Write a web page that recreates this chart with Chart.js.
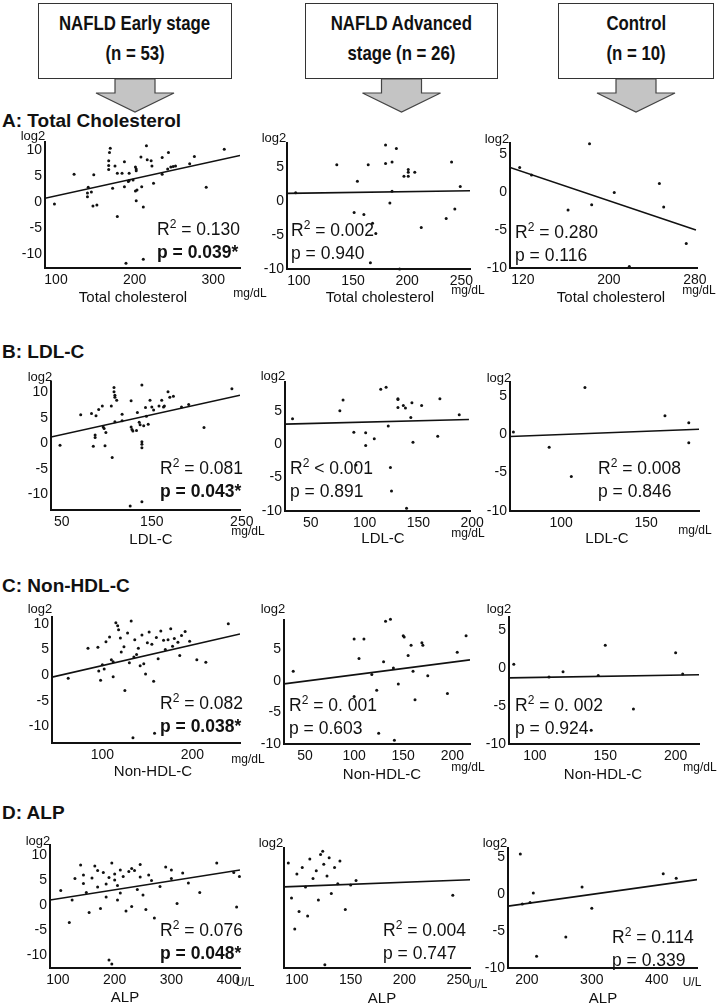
<!DOCTYPE html>
<html>
<head>
<meta charset="utf-8">
<script src="https://cdn.jsdelivr.net/npm/chart.js@4.4.1/dist/chart.umd.min.js"></script>
<style>
  body { margin: 0; background: #fff; }
  #page { position: relative; width: 717px; height: 1008px; overflow: hidden; font-family: Arial, "Liberation Sans", sans-serif; color: #111; }
  .box { position: absolute; border: 1.3px solid #333; background: #fff; box-sizing: border-box;
         display: flex; flex-direction: column; justify-content: center; align-items: center; padding-bottom: 6px;
         font-weight: bold; font-size: 21px; line-height: 30px; }
  .box div { transform: scaleX(0.8); white-space: nowrap; }
  .t { position: absolute; white-space: nowrap; }
  .sec { font-weight: bold; font-size: 19px; }
  .stat { font-size: 17.5px; }
  .stat sup { font-size: 12px; vertical-align: 7px; line-height: 0; }
  .xt { font-size: 15px; }
  .unit { font-size: 12px; }
  .log { font-size: 13px; }
</style>
</head>
<body>
<div id="page">
  <svg width="717" height="120" style="position:absolute;left:0;top:0" id="arrows"></svg>
</div>
<script>
// ==================== DATA ====================
// A: Total cholesterol (mg/dL) vs log2
const tcEarlyX = [98,123,141,140,140,145,148,147,152,169,168,167,167,167,175,178,178,172,184,187,187,189,192,193,193,198,201,202,202,201,203,202,208,209,211,211,215,216,222,221,224,235,235,242,243,246,249,252,270,276,291,314];
const tcEarlyY = [-0.4,5.3,2.8,1.7,1.0,1.9,5.2,-0.8,-0.6,10.3,9.5,7.9,7.0,6.2,6.9,5.5,-2.8,2.6,5.5,7.7,2.9,-11.8,3.9,4.1,5.5,4.2,6.7,6.3,6.0,2.1,2.3,0.2,8.6,2.9,-1.0,-11.0,10.8,8.1,6.9,7.9,3.6,8.5,5.3,6.3,9.5,6.7,6.8,6.9,7.3,8.7,2.8,10.1];
const tcEarlyFit = [[86, 0.7], [334, 8.9]];

const tcAdvX = [97,135,154,151,160,164,166,168,171,180,180,184,186,186,190,193,197,201,201,201,207,213,236,241,244,249];
const tcAdvY = [1.2,5.3,2.9,-1.7,-2.0,5.3,-9.1,-3.3,-4.8,5.5,8.2,-0.3,5.7,1.4,7.7,-10,3.6,4.2,4.6,3.6,4.2,-3.9,-2.6,5.7,-1.2,2.1];
const tcAdvFit = [[89, 1.1], [258, 1.5]];

const tcCtrlX = [117,128,162,182,184,205,219,247,251,272];
const tcCtrlY = [3.2,2.2,-2.4,6.3,-1.7,-0.1,-9.8,1.1,-2.0,-6.8];
const tcCtrlFit = [[108, 3.2], [281, -5.0]];

// B: LDL-C
const ldlEarlyX = [48,71,83,85,88,87,87,91,95,96,97,99,98,105,106,108,108,109,109,111,109,117,117,127,127,128,129,133,134,136,137,139,139,139,139,141,143,144,146,148,150,152,158,161,163,164,168,170,174,183,191,208,239,126,139];
const ldlEarlyY = [-0.4,5.6,5.8,-0.6,5.4,1.6,1.1,6.6,7.3,3.2,2.9,2.1,-0.5,7.3,-2.8,10.9,10.1,9.4,9.0,8.4,4.2,5.7,4.4,8.3,3.2,2.7,2.4,2.5,6.0,4.1,3.6,11.4,0.3,-0.2,-0.9,3.4,7.0,5.3,3.7,8.4,7.1,6.5,7.3,8.4,7.1,7.3,10.1,9.0,9.2,7.1,7.6,3.1,10.7,-12.3,-11.5];
const ldlEarlyFit = [[38, 1.2], [248, 9.4]];

const ldlAdvX = [33,77,80,90,101,101,109,115,120,122,131,131,131,136,138,143,144,145,153,168,170,188,92,124,139,125];
const ldlAdvY = [3.8,5.0,6.6,1.8,1.7,-0.2,0.8,8.2,8.5,2.7,6.7,6.8,5.5,5.8,5.4,4.0,6.2,0.3,5.8,1.2,6.8,4.4,-3.1,-3.5,-9.6,-7.0];
const ldlAdvFit = [[26, 3.0], [197, 3.7]];

const ldlCtrlX = [72,93,114,161,175,175,106];
const ldlCtrlY = [0.3,-1.7,6.1,2.4,1.5,-1.1,-5.5];
const ldlCtrlFit = [[70, -0.3], [181, 0.65]];

// C: Non-HDL-C
const nhEarlyX = [62,84,95,96,98,100,102,104,108,110,112,112,115,117,118,120,121,124,125,128,130,132,134,135,136,138,140,142,144,146,148,150,152,155,157,158,160,162,165,168,170,173,176,180,184,188,192,197,205,215,240,178,186];
const nhEarlyY = [-0.6,5.2,5.4,0.8,-1.0,2.0,1.2,6.5,7.4,3.0,2.6,-0.3,10.2,9.6,8.8,7.2,4.5,5.5,-3.0,8.2,2.4,10.5,-12.2,3.5,6.9,4.0,5.2,1.8,7.8,2.2,0.2,6.3,8.4,6.0,-1.2,-11.3,7.3,3.2,8.6,6.8,5.0,6.9,9.0,7.1,6.4,7.7,8.5,6.6,3.0,2.5,10.0,5.6,3.8];
const nhEarlyFit = [[44, -0.4], [253, 8.0]];

const nhAdvX = [38,100,110,132,137,150,151,158,169,170,214,125,141,162,105,118,123,130,140,145,155,160,175,195,205,100];
const nhAdvY = [1.5,6.6,6.6,9.4,9.7,7.1,6.9,5.6,6.0,5.6,7.1,-8.3,-9.4,-3.0,3.5,1.0,-1.5,3.0,2.0,-0.5,4.0,1.5,0.8,-2.0,4.5,-2.5];
const nhAdvFit = [[28.6, -0.5], [218, 3.3]];

const nhCtrlX = [85,110,140,145,150,170,200,205,120];
const nhCtrlY = [0.5,-1.2,-8.2,-1.0,3.0,-5.4,2.0,-0.8,-0.5];
const nhCtrlFit = [[81.6, -1.3], [216.6, -0.9]];

// D: ALP (U/L)
const alpEarlyX = [105,120,125,130,140,145,150,155,160,165,170,175,180,185,190,190,195,195,200,200,205,205,210,215,220,225,230,235,240,245,250,255,260,265,270,280,290,300,310,320,330,350,380,410,415,420,145,170,210,230,185,245,300];
const alpEarlyY = [2.9,-3.5,1.0,5.3,8.0,6.0,2.5,-1.5,5.4,7.8,3.6,-0.7,6.5,4.2,5.5,-11.0,-11.8,8.4,6.2,5.0,3.9,1.0,7.0,5.7,-1.2,6.7,7.3,6.9,3.1,5.6,2.0,-0.9,6.0,4.9,-2.6,3.7,7.6,5.3,0.3,6.4,4.4,2.5,8.4,6.5,-0.4,5.7,4.3,6.9,2.4,-0.3,1.6,8.1,7.0];
const alpEarlyFit = [[86, 1.0], [421, 7.0]];

const alpAdvX = [92,95,98,100,102,105,108,110,112,115,118,120,122,124,125,126,128,130,132,135,138,140,145,150,155,245];
const alpAdvY = [6.2,0.8,-4.0,4.5,-1.3,5.5,2.5,-2.0,6.8,3.8,5.0,0.5,7.5,8.0,6.0,-9.5,4.2,7.0,1.5,5.5,3.0,6.5,-1.0,2.8,3.5,1.2];
const alpAdvFit = [[88, 2.5], [261, 3.6]];

const alpCtrlX = [190,193,205,210,215,260,285,300,410,430];
const alpCtrlY = [5.5,-1.3,-1.1,0.2,-8.4,-5.8,1.0,-1.9,2.8,2.2];
const alpCtrlFit = [[171, -1.6], [462, 2.0]];

// tick labels
const yTicksFull = [-10, -5, 0, 5, 10];
const yTicksMid = [-10, -5, 0, 5];
const tcEarlyTicks = [100, 200, 300];
const tcAdvTicks = [100, 150, 200, 250];
const tcCtrlTicks = [120, 200, 280];
const ldlEarlyTicks = [50, 150, 250];
const ldlAdvTicks = [50, 100, 150, 200];
const ldlCtrlTicks = [100, 150];
const nhEarlyTicks = [100, 200];
const nhAdvTicks = [50, 100, 150, 200];
const nhCtrlTicks = [100, 150, 200];
const alpEarlyTicks = [100, 200, 300, 400];
const alpAdvTicks = [100, 150, 200, 250];
const alpCtrlTicks = [200, 300, 400];

// ==================== LAYOUT ====================
const page = document.getElementById('page');
Chart.defaults.font.family = 'Arial, "Liberation Sans", sans-serif';
Chart.defaults.color = '#111';

function txt(html, x, y, cls, align) {
  const d = document.createElement('div');
  d.className = 't ' + cls;
  const tx = align === 'left' ? '0' : '-50%';
  d.style.cssText = `left:${x}px;top:${y}px;transform:translate(${tx},-50%);`;
  d.innerHTML = html;
  page.appendChild(d);
}

// header boxes + arrows
const boxes = [
  { lines: ['NAFLD Early stage', '(n = 53)'], l: 38, t: 3, w: 194, h: 76 },
  { lines: ['NAFLD Advanced', 'stage (n = 26)'], l: 305, t: 3, w: 193, h: 76 },
  { lines: ['Control', '(n = 10)'], l: 558, t: 3, w: 156, h: 76 }
];
const svg = document.getElementById('arrows');
boxes.forEach(b => {
  const d = document.createElement('div');
  d.className = 'box';
  d.style.cssText = `left:${b.l}px;top:${b.t}px;width:${b.w}px;height:${b.h}px;`;
  d.innerHTML = b.lines.map(s => `<div>${s}</div>`).join('');
  page.appendChild(d);
  const cx = b.l + b.w / 2, y0 = b.t + b.h;
  const pts = [[cx - 20, y0], [cx + 20, y0], [cx + 20, y0 + 14], [cx + 39, y0 + 14], [cx, y0 + 33],
               [cx - 39, y0 + 14], [cx - 20, y0 + 14]];
  const poly = document.createElementNS('http://www.w3.org/2000/svg', 'polygon');
  poly.setAttribute('points', pts.map(p => p.join(',')).join(' '));
  poly.setAttribute('fill', '#c4c4c4');
  poly.setAttribute('stroke', '#444');
  poly.setAttribute('stroke-width', '1.2');
  svg.appendChild(poly);
});

const sections = [['A: Total Cholesterol', 121], ['B: LDL-C', 352], ['C: Non-HDL-C', 586], ['D: ALP', 813]];
sections.forEach(s => txt(s[0], 2, s[1], 'sec', 'left'));

function panel(xs, ys, fit, xTicks, yTicks, g) {
  const [l, t, r, b] = g.area;
  const YW = 40, XH = 26, PT = 12, PR = 26;
  const w = r - l + YW + PR, h = b - t + PT + XH;
  const cv = document.createElement('canvas');
  cv.width = w; cv.height = h;
  cv.style.cssText = `position:absolute;left:${l - YW}px;top:${t - PT}px;width:${w}px;height:${h}px;`;
  page.appendChild(cv);
  new Chart(cv, {
    type: 'scatter',
    data: {
      datasets: [{
        data: xs.map((x, i) => ({ x, y: ys[i] })),
        pointRadius: 1.5,
        pointBorderWidth: 0,
        pointBackgroundColor: '#111',
        clip: false
      }, {
        type: 'line',
        data: fit.map(p => ({ x: p[0], y: p[1] })),
        borderColor: '#111',
        borderWidth: 1.6,
        pointRadius: 0,
        fill: false
      }]
    },
    options: {
      responsive: false,
      animation: false,
      layout: { padding: { top: PT, right: PR, left: 0, bottom: 0 } },
      plugins: { legend: { display: false }, tooltip: { enabled: false } },
      scales: {
        x: {
          type: 'linear', min: g.x[0], max: g.x[1],
          grid: { display: false, drawTicks: false },
          border: { color: '#111', width: 2 },
          ticks: { font: { size: 14 }, padding: 4, maxRotation: 0, autoSkip: false },
          afterBuildTicks: s => { s.ticks = xTicks.map(v => ({ value: v })); },
          afterFit: s => { s.height = XH; }
        },
        y: {
          type: 'linear', min: g.y[0], max: g.y[1],
          grid: { display: false, drawTicks: false },
          border: { color: '#111', width: 2 },
          ticks: { font: { size: 14 }, padding: 3, autoSkip: false, display: yTicks.length > 0 },
          afterBuildTicks: s => { s.ticks = yTicks.map(v => ({ value: v })); },
          afterFit: s => { s.width = YW; }
        }
      }
    }
  });
  // annotations
  txt('log2', g.log[0], g.log[1], 'log');
  txt(g.title, g.xt[0], g.xt[1], 'xt');
  txt(g.unitText, g.unit[0], g.unit[1], 'unit');
  txt(`R<sup>2</sup> ${g.r2}`, g.stat[0], g.stat[1], 'stat', 'left');
  txt(g.p, g.stat[0], g.stat[1] + 23, 'stat', 'left');
}

panel(tcEarlyX, tcEarlyY, tcEarlyFit, tcEarlyTicks, yTicksFull, {
  area: [45, 142, 240, 268], x: [86, 334], y: [-12.7, 11.5], log: [33, 135],
  title: 'Total cholesterol', xt: [133, 296], unitText: 'mg/dL', unit: [250, 293],
  r2: '= 0.130', p: '<b>p = 0.039*</b>', stat: [157, 229] });
panel(tcAdvX, tcAdvY, tcAdvFit, tcAdvTicks, yTicksMid, {
  area: [287, 143, 470, 269], x: [89, 258], y: [-10, 8.5], log: [274, 137],
  title: 'Total cholesterol', xt: [380, 296], unitText: 'mg/dL', unit: [468, 290],
  r2: '= 0.002', p: 'p = 0.940', stat: [291, 230] });
panel(tcCtrlX, tcCtrlY, tcCtrlFit, tcCtrlTicks, yTicksMid, {
  area: [510, 143, 697, 268], x: [108, 282], y: [-10, 6.4], log: [497, 138],
  title: 'Total cholesterol', xt: [611, 296], unitText: 'mg/dL', unit: [699, 290],
  r2: '= 0.280', p: 'p = 0.116', stat: [515, 232] });

panel(ldlEarlyX, ldlEarlyY, ldlEarlyFit, ldlEarlyTicks, yTicksFull, {
  area: [51, 382, 240, 510], x: [38, 248], y: [-13.1, 12], log: [40, 376],
  title: 'LDL-C', xt: [151, 538], unitText: 'mg/dL', unit: [248, 531],
  r2: '= 0.081', p: '<b>p = 0.043*</b>', stat: [160, 468] });
panel(ldlAdvX, ldlAdvY, ldlAdvFit, ldlAdvTicks, yTicksMid, {
  area: [285, 382, 470, 511], x: [26, 198], y: [-10, 9.3], log: [273, 375],
  title: 'LDL-C', xt: [383, 537], unitText: 'mg/dL', unit: [468, 533],
  r2: '&lt; 0.001', p: 'p = 0.891', stat: [290, 468] });
panel(ldlCtrlX, ldlCtrlY, ldlCtrlFit, ldlCtrlTicks, yTicksMid, {
  area: [510, 382, 699, 511], x: [70, 181], y: [-10, 6.8], log: [499, 377],
  title: 'LDL-C', xt: [607, 537], unitText: 'mg/dL', unit: [695, 530],
  r2: '= 0.008', p: 'p = 0.846', stat: [598, 468] });

panel(nhEarlyX, nhEarlyY, nhEarlyFit, nhEarlyTicks, yTicksFull, {
  area: [52, 617, 240, 743], x: [44, 253], y: [-13.2, 11.3], log: [40, 608],
  title: 'Non-HDL-C', xt: [153, 770], unitText: 'mg/dL', unit: [248, 759],
  r2: '= 0.082', p: '<b>p = 0.038*</b>', stat: [160, 703] });
panel(nhAdvX, nhAdvY, nhAdvFit, nhAdvTicks, yTicksMid, {
  area: [284, 620, 470, 744], x: [28.6, 218], y: [-10, 9.6], log: [273, 608],
  title: 'Non-HDL-C', xt: [382, 773], unitText: 'mg/dL', unit: [468, 767],
  r2: '= 0. 001', p: 'p = 0.603', stat: [289, 705] });
panel(nhCtrlX, nhCtrlY, nhCtrlFit, nhCtrlTicks, yTicksMid, {
  area: [509, 617, 699, 744], x: [81.6, 216.6], y: [-10, 6.7], log: [499, 608],
  title: 'Non-HDL-C', xt: [603, 773], unitText: 'mg/dL', unit: [700, 767],
  r2: '= 0. 002', p: 'p = 0.924', stat: [515, 705] });

panel(alpEarlyX, alpEarlyY, alpEarlyFit, alpEarlyTicks, yTicksFull, {
  area: [50, 845, 240, 968], x: [86, 421], y: [-12.6, 12], log: [38, 840],
  title: 'ALP', xt: [125, 996], unitText: 'U/L', unit: [245, 982],
  r2: '= 0.076', p: '<b>p = 0.048*</b>', stat: [160, 930] });
panel(alpAdvX, alpAdvY, alpAdvFit, alpAdvTicks, [], {
  area: [284, 848, 470, 968], x: [88, 261], y: [-10, 8.5], log: [271, 842],
  title: 'ALP', xt: [382, 997], unitText: 'U/L', unit: [478, 984],
  r2: '= 0.004', p: 'p = 0.747', stat: [383, 930] });
panel(alpCtrlX, alpCtrlY, alpCtrlFit, alpCtrlTicks, yTicksMid, {
  area: [508, 848, 697, 968], x: [171, 462], y: [-10, 6.3], log: [495, 842],
  title: 'ALP', xt: [603, 997], unitText: 'U/L', unit: [692, 982],
  r2: '= 0.114', p: 'p = 0.339', stat: [612, 937] });
</script>
</body>
</html>
